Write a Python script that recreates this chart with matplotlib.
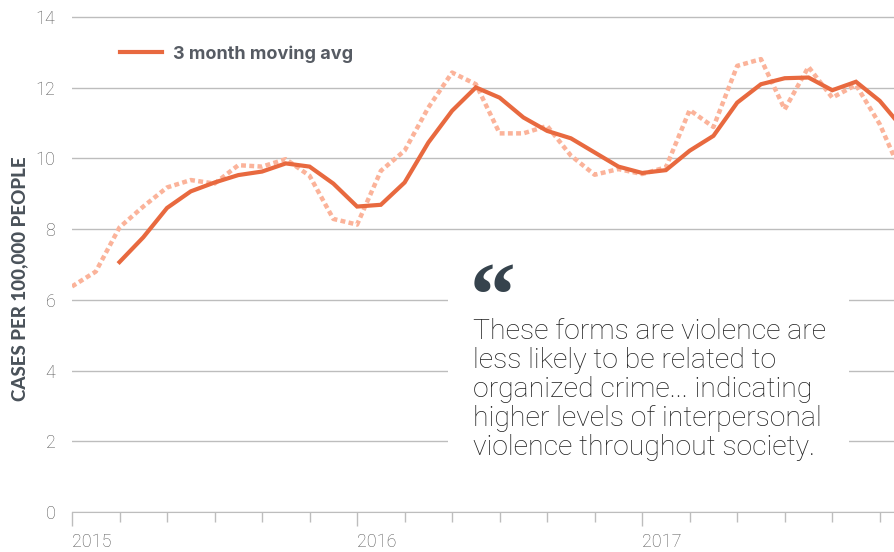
import matplotlib.pyplot as plt
from matplotlib.patches import Rectangle
import numpy as np

# monthly rate, Jan 2015 onward (cases per 100,000)
monthly = [6.38, 6.80, 8.05, 8.64, 9.18, 9.39, 9.29, 9.81, 9.77, 9.98,
           9.51, 8.29, 8.13, 9.65, 10.22, 11.44, 12.43, 12.10, 10.71, 10.71,
           10.92, 10.08, 9.54, 9.70, 9.56, 9.75, 11.37, 10.89, 12.62, 12.81,
           11.39, 12.59, 11.72, 12.08, 10.97, 9.45]
# 3 month moving average, starts at Mar 2015
moving_avg = [7.07, 7.77, 8.60, 9.07, 9.32, 9.53, 9.63, 9.86, 9.77, 9.29,
              8.64, 8.69, 9.32, 10.45, 11.35, 12.01, 11.72, 11.16, 10.78,
              10.57, 10.17, 9.77, 9.59, 9.67, 10.22, 10.64, 11.58, 12.10,
              12.27, 12.29, 11.93, 12.17, 11.63, 10.83]
years = ["2015", "2016", "2017"]
quote = ("These forms are violence are\nless likely to be related to\n"
         "organized crime... indicating\nhigher levels of interpersonal\n"
         "violence throughout society.")

ORANGE = "#E8693F"
SALMON = "#FBB39A"
GRID = "#BDBDBD"

fig = plt.figure(figsize=(8.94, 5.52), dpi=100)
ax = fig.add_axes([72 / 894, 40 / 552, 822 / 894, 496 / 552])

m_all = np.arange(len(monthly))
m_avg = np.arange(2, 2 + len(moving_avg))
ax.plot(m_all, monthly, color=SALMON, lw=3.2, ls=(0, (1.1, 0.75)),
        solid_capstyle="butt", zorder=2)
ax.plot(m_avg, moving_avg, color=ORANGE, lw=3.0, label="3 month moving avg",
        solid_joinstyle="miter", zorder=3)

ax.set_xlim(0, 34.6)
ax.set_ylim(0, 14.03)
ax.set_yticks(np.arange(0, 15, 2))
ax.set_xticks([0, 12, 24])
ax.set_xticklabels(years, ha="left")
ax.set_xticks(np.arange(0, 36, 2), minor=True)

ax.grid(axis="y", color=GRID, lw=1)
ax.set_axisbelow(True)
for s in ["left", "right", "top"]:
    ax.spines[s].set_visible(False)
ax.spines["bottom"].set_color(GRID)
ax.tick_params(axis="y", length=0, pad=12, labelsize=13, labelcolor="#555555")
ax.tick_params(axis="x", which="major", length=10, width=1, color=GRID,
               pad=5, labelsize=13, labelcolor="#555555")
ax.tick_params(axis="x", which="minor", length=7, width=1, color=GRID)
for lbl in ax.get_xticklabels() + ax.get_yticklabels():
    lbl.set_family("Roboto")
    lbl.set_weight("light")

ax.set_ylabel("CASES PER 100,000 PEOPLE", fontsize=13.5, fontweight="black",
              family="Lato", color="#4A525A", va="center")
ax.yaxis.set_label_coords((20 - 72) / 822, (512 - 279) / 496)

leg = ax.legend(loc="center left", bbox_to_anchor=((120 - 72) / 822, (512 - 54) / 496),
                frameon=False, borderpad=0, borderaxespad=0, handlelength=2.35,
                handletextpad=0.6, labelcolor="#565B63",
                prop={"family": "Inter", "weight": "bold", "size": 13})

# white box behind the quote
ax.add_patch(Rectangle((0.457, 0.054), 0.488, 0.464, transform=ax.transAxes,
                       facecolor="white", edgecolor="none", zorder=1))

fig.text(470 / 894, 1 - 325 / 552, "\u201c", fontsize=66, fontweight="bold",
         family="Liberation Serif", color="#36434D", va="baseline", ha="left")
fig.text(473 / 894, 1 - 318 / 552, quote, fontsize=20.4, fontweight="light",
         family="Roboto", color="#1E1E1E", va="top", ha="left", linespacing=1.1)

fig.savefig("out.png", dpi=100)
